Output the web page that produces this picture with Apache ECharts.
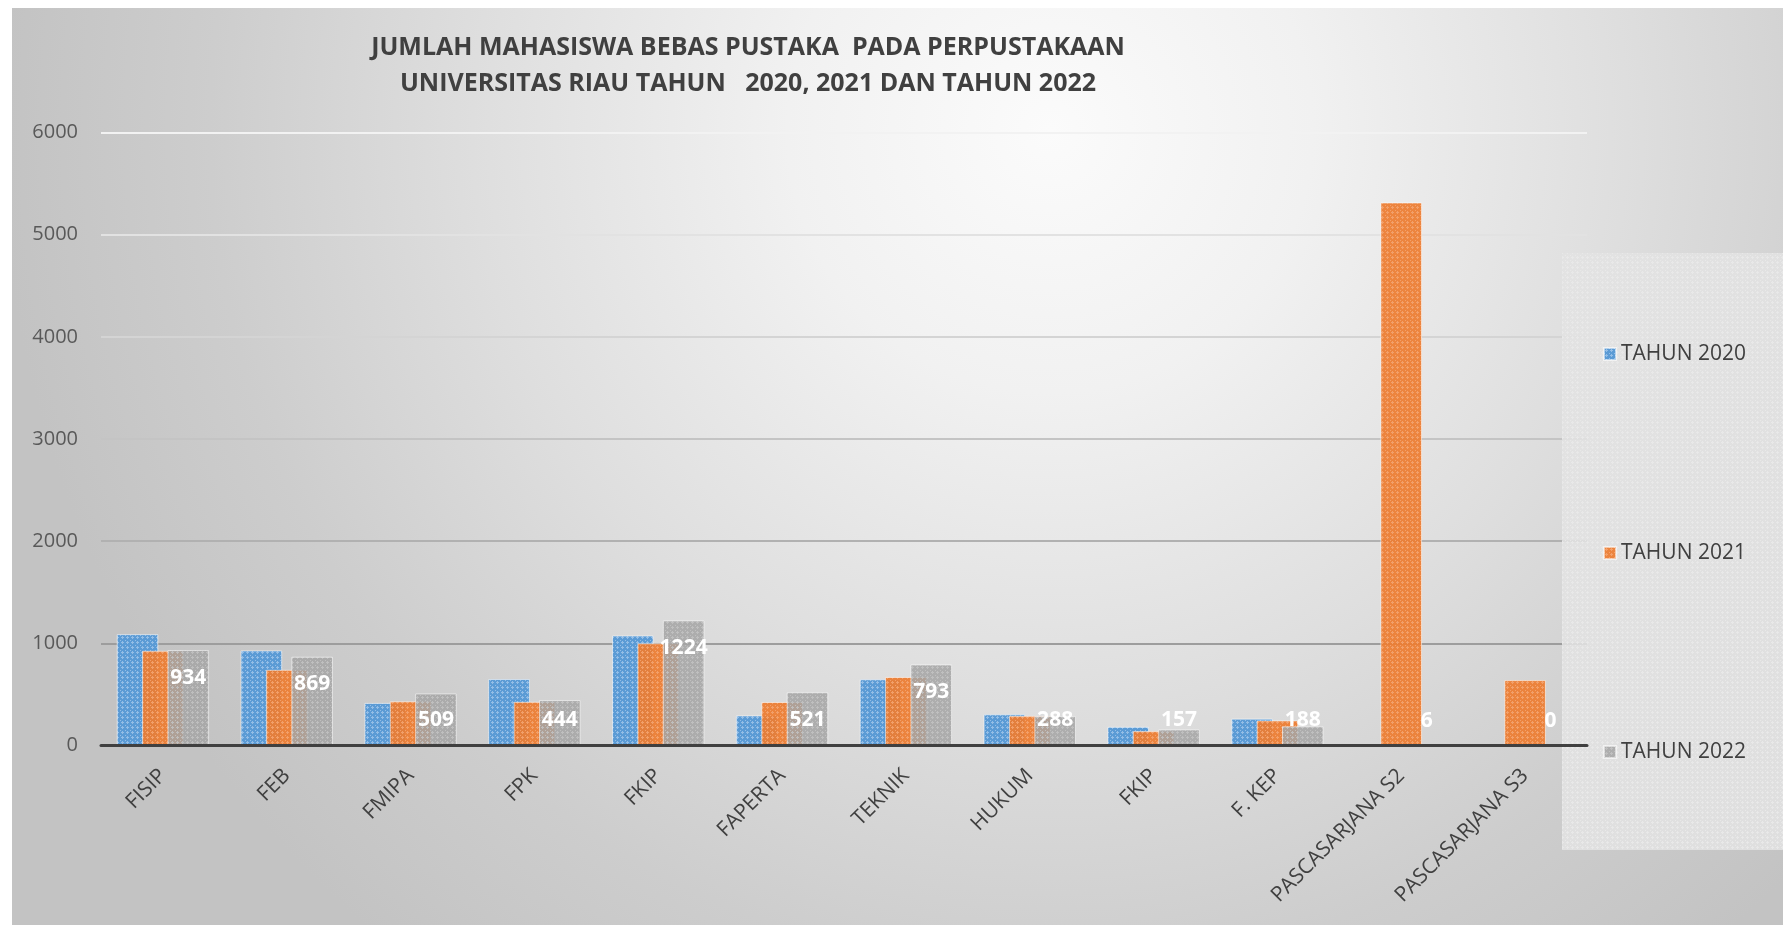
<!DOCTYPE html>
<html>
<head>
<meta charset="utf-8">
<script src="https://cdn.jsdelivr.net/npm/echarts@6/dist/echarts.min.js"></script>
<style>
  html, body { margin: 0; padding: 0; background: #ffffff; }
  #chart { width: 1783px; height: 925px; }
</style>
</head>
<body>
<div id="chart"></div>
<script>
// Faculties / programmes on the x axis
const categories = ['FISIP', 'FEB', 'FMIPA', 'FPK', 'FKIP', 'FAPERTA', 'TEKNIK', 'HUKUM', 'FKIP', 'F. KEP', 'PASCASARJANA S2', 'PASCASARJANA S3'];

// Students cleared by the library, per year
const tahun2020 = [1090, 930, 417, 651, 1076, 294, 648, 305, 183, 263, null, null];
const tahun2021 = [927, 741, 433, 428, 1000, 426, 671, 290, 141, 245, 5315, 640];
const tahun2022 = [934, 869, 509, 444, 1224, 521, 793, 288, 157, 188, 6, 0];

const seriesNames = ['TAHUN 2020', 'TAHUN 2021', 'TAHUN 2022'];
const yTicks = { min: 0, max: 6000, interval: 1000 };

const FONT = '"Open Sans", "Noto Sans", sans-serif';

// Small dotted-grid texture used as bar fill
function dottedFill(base, light, alpha) {
  const c = document.createElement('canvas');
  c.width = 5; c.height = 5;
  const g = c.getContext('2d');
  g.globalAlpha = alpha;
  g.fillStyle = base;
  g.fillRect(0, 0, 5, 5);
  g.fillStyle = light;
  g.fillRect(2, 1, 1, 1);
  g.fillRect(1, 2, 3, 1);
  g.fillRect(2, 3, 1, 1);
  g.fillRect(0, 0, 1, 1);
  return { image: c, repeat: 'repeat' };
}

const fills = [
  dottedFill('#5b9bd5', '#93bde6', 1),
  dottedFill('#ed7d31', '#f3a36e', 0.93),
  dottedFill('#a5a5a5', '#c3c3c3', 0.86)
];

const chart = echarts.init(document.getElementById('chart'), null, { renderer: 'canvas' });

// Value label sits just inside the bar top; on short bars it rests on the baseline
function valueLabelLayout(p) {
  const r = p.rect;
  const top = r.y;
  const base = r.y + r.height;
  const cy = Math.min(top + 27.5, base - 25);
  return { x: r.x + r.width / 2, y: cy, align: 'center', verticalAlign: 'middle' };
}

function makeSeries(idx, values, withLabel) {
  return {
    name: seriesNames[idx],
    type: 'bar',
    data: values,
    barWidth: '33.6%',
    barGap: '-39%',
    itemStyle: {
      color: fills[idx],
      borderColor: 'rgba(255,255,255,0.55)',
      borderWidth: 1
    },
    label: withLabel ? {
      show: true,
      color: '#ffffff',
      fontFamily: FONT,
      fontSize: 21,
      fontWeight: 'bold'
    } : { show: false },
    labelLayout: withLabel ? valueLabelLayout : undefined,
    emphasis: { disabled: true }
  };
}

const option = {
  backgroundColor: '#ffffff',
  animation: false,
  title: {
    text: 'JUMLAH MAHASISWA BEBAS PUSTAKA  PADA PERPUSTAKAAN\nUNIVERSITAS RIAU TAHUN   2020, 2021 DAN TAHUN 2022',
    left: 748,
    top: 30,
    padding: 0,
    textAlign: 'center',
    textStyle: {
      fontFamily: FONT,
      fontSize: 25,
      fontWeight: 'bold',
      color: '#404040',
      lineHeight: 36
    }
  },
  graphic: [
    {
      type: 'rect',
      z: -100,
      silent: true,
      shape: { x: 12, y: 8, width: 1771, height: 917 },
      style: {
        fill: {
          type: 'radial', x: 1050, y: 130, r: 1050, global: true,
          colorStops: [
            { offset: 0, color: '#fbfbfb' },
            { offset: 0.25, color: '#f1f1f1' },
            { offset: 0.55, color: '#dedede' },
            { offset: 0.8, color: '#cdcdcd' },
            { offset: 1, color: '#c3c3c3' }
          ]
        }
      }
    },
    {
      type: 'rect',
      z: 1,
      silent: true,
      shape: { x: 1562, y: 253, width: 221, height: 597 },
      style: { fill: dottedFill('#e2e2e2', '#ebebeb', 0.88) }
    }
  ],
  legend: {
    orient: 'vertical',
    left: 1598,
    top: 337,
    itemWidth: 12,
    itemHeight: 12,
    itemGap: 175,
    icon: 'rect',
    data: seriesNames,
    textStyle: {
      fontFamily: FONT,
      fontSize: 21,
      lineHeight: 24,
      color: '#404040'
    }
  },
  grid: {
    left: 101,
    right: 196,
    top: 132.5,
    bottom: 179.5,
    containLabel: false
  },
  xAxis: {
    type: 'category',
    data: categories,
    z: 3,
    axisLine: { show: true, lineStyle: { color: '#404040', width: 3 } },
    axisTick: { show: false },
    axisLabel: {
      rotate: 45,
      interval: 0,
      margin: 27,
      fontFamily: FONT,
      fontSize: 21,
      color: '#404040'
    },
    splitLine: { show: false }
  },
  yAxis: {
    type: 'value',
    min: yTicks.min,
    max: yTicks.max,
    interval: yTicks.interval,
    axisLine: { show: false },
    axisTick: { show: false },
    axisLabel: {
      margin: 23,
      fontFamily: FONT,
      fontSize: 20,
      color: '#595959',
      formatter: function (v) { return String(v); }
    },
    splitLine: {
      show: true,
      lineStyle: {
        width: 2,
        color: ['#8a8a8a', '#9d9d9d', '#b1b1b1', '#c4c4c4', '#d4d4d4', '#e2e2e2', '#f2f2f2']
      }
    }
  },
  series: [
    makeSeries(0, tahun2020, false),
    makeSeries(1, tahun2021, false),
    makeSeries(2, tahun2022, true)
  ]
};

chart.setOption(option);
</script>
</body>
</html>
